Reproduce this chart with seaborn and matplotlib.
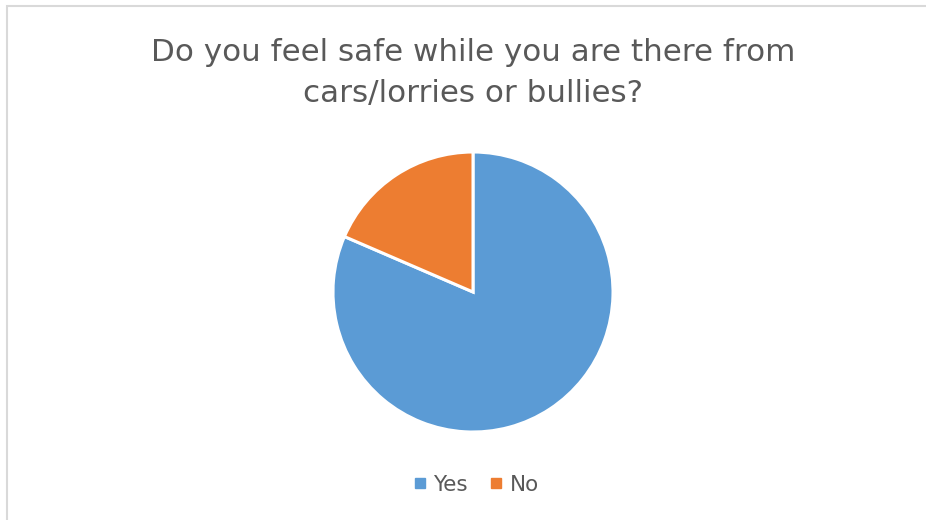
import matplotlib
matplotlib.use("Agg")
import matplotlib.pyplot as plt
import seaborn as sns
from matplotlib.patches import Rectangle
from matplotlib.lines import Line2D

labels = ["Yes", "No"]
counts = [22, 5]
colors = ["#5B9BD5", "#ED7D31"]
title = "Do you feel safe while you are there from\ncars/lorries or bullies?"

sns.set_style("white")
plt.rcParams['font.family'] = ['DejaVu Sans']

fig = plt.figure(figsize=(9.26, 5.2), dpi=100)

# light grey chart border (top + left visible)
fig.patches.append(Rectangle((7 / 926, -0.1), 1.1, 1 - 6.5 / 520 + 0.1,
                             transform=fig.transFigure, fill=False,
                             edgecolor="#D9D9D9", linewidth=1.5))

ax = fig.add_axes([0.3596, 0.1692, 0.3024, 0.5385])
ax.pie(counts, colors=colors, startangle=90, counterclock=False,
       radius=1, wedgeprops=dict(edgecolor="white", linewidth=2.2))
ax.set_xlim(-1.0, 1.0)
ax.set_ylim(-1.0, 1.0)
ax.set_aspect("equal")
ax.axis("off")

fig.text(0.5108, 1 - 73 / 520, title, ha="center", va="center",
         fontsize=22.3, color="#595959", linespacing=1.55)

handles = [Line2D([0], [0], marker="s", linestyle="", markersize=6.5,
                  markerfacecolor=c, markeredgecolor=c) for c in colors]
fig.legend(handles, labels, loc="center", bbox_to_anchor=(0.5108, 1 - 485 / 520),
           ncol=2, frameon=False, fontsize=15.5, handletextpad=0.05,
           columnspacing=0.7, handlelength=1.2, labelcolor="#595959")

fig.savefig("out.png", dpi=100)
